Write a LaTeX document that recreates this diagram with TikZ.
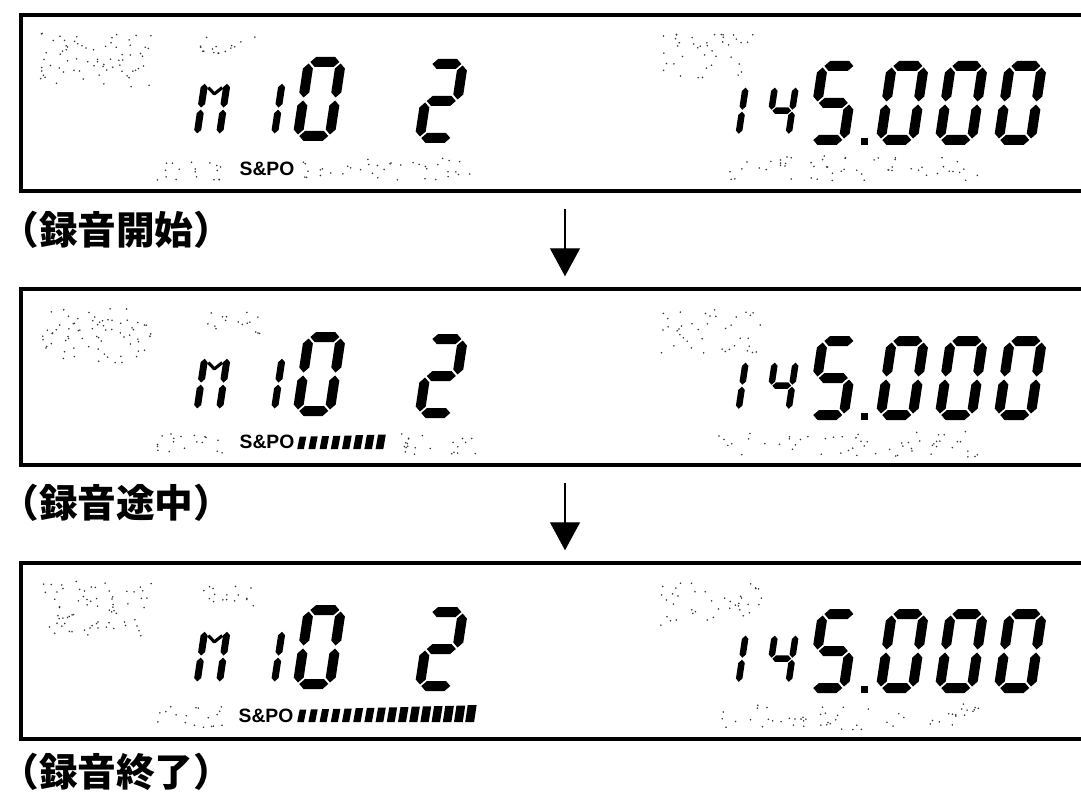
\documentclass[tikz,border=0pt]{standalone}
\usepackage{fontspec}
\setsansfont{Liberation Sans}
\newfontfamily\jpfont{Noto Sans CJK JP}
\usetikzlibrary{arrows.meta, positioning}

\tikzset{
  panel/.style={draw, line width=2pt, minimum width=21.6cm, minimum height=3.52cm, inner sep=0pt},
  caption/.style={font=\jpfont\bfseries\fontsize{22}{22}\selectfont, anchor=west, inner sep=0pt},
  tag/.style={font=\sffamily\bfseries\fontsize{11}{11}\selectfont, inner sep=0pt},
  flow/.style={-{Triangle[length=0.56cm, width=0.6cm]}, line width=0.7pt, shorten <=0.32cm, shorten >=0.22cm},
  speck/.style={fill=black!80},
  % seven segment pieces, local units, origin bottom left
  sega/.pic={\fill (6.5,79) -- (11.5,84) -- (30.5,84) -- (35.5,79) -- (30.5,74) -- (11.5,74) -- cycle;},
  segg/.pic={\fill (6.5,42) -- (11.5,47) -- (30.5,47) -- (35.5,42) -- (30.5,37) -- (11.5,37) -- cycle;},
  segd/.pic={\fill (6.5,5) -- (11.5,10) -- (30.5,10) -- (35.5,5) -- (30.5,0) -- (11.5,0) -- cycle;},
  segb/.pic={\fill (37,43.5) -- (42,48.5) -- (42,72.5) -- (37,77.5) -- (32,72.5) -- (32,48.5) -- cycle;},
  segc/.pic={\fill (37,6.5) -- (42,11.5) -- (42,35.5) -- (37,40.5) -- (32,35.5) -- (32,11.5) -- cycle;},
  sege/.pic={\fill (5,6.5) -- (10,11.5) -- (10,35.5) -- (5,40.5) -- (0,35.5) -- (0,11.5) -- cycle;},
  segf/.pic={\fill (5,43.5) -- (10,48.5) -- (10,72.5) -- (5,77.5) -- (0,72.5) -- (0,48.5) -- cycle;},
  segV/.pic={\draw[line width=1.8pt, line join=round] (11,72) -- (21,63) -- (31,72);}
}

% digit at bottom left (x,y), scale, segments
\newcommand{\lcddigit}[4]{%
  \begin{scope}[shift={(#1,#2)}, x={({0.02cm*#3},0)}, y={({0.003cm*#3},{0.02cm*#3})}]
    \foreach \s in {#4} \pic {seg\s};
  \end{scope}}

% scattered dots of the unlit parts
\newcommand{\speckle}[5]{%
  \foreach \k in {1,...,#5} \fill[speck] ({#1+#3*rnd},{#2+#4*rnd}) circle (0.5pt);}

\newcommand{\levelbars}[2]{%
  \foreach \i in {1,...,#2}
    \fill ({286+11.2*\i},{#1+174}) -- ++({6.5+0.15*\i},0) -- ++(2.5,{-12-0.3*\i}) -- ++({-6.5-0.15*\i},0) -- cycle;}

\newcommand{\lcdcontent}[1]{%
  \speckle{40}{#1+33}{112}{55}{70}
  \speckle{200}{#1+37}{62}{22}{16}
  \speckle{157}{#1+158}{68}{22}{18}
  \speckle{660}{#1+34}{102}{44}{40}
  \speckle{712}{#1+156}{268}{26}{55}
  \lcddigit{193}{#1+138}{0.7}{e,f,b,c,V}
  \lcddigit{248}{#1+138}{0.7}{b,c}
  \lcddigit{292}{#1+141}{1}{a,b,c,d,e,f}
  \lcddigit{414}{#1+143}{1}{a,b,g,e,d}
  \lcddigit{714}{#1+138}{0.65}{b,c}
  \lcddigit{764}{#1+138}{0.65}{f,g,b,c}
  \lcddigit{806}{#1+145}{1}{a,f,g,c,d}
  \fill (861,#1+138) rectangle ++(7,7);
  \lcddigit{875}{#1+145}{1}{a,b,c,d,e,f}
  \lcddigit{934}{#1+145}{1}{a,b,c,d,e,f}
  \lcddigit{993}{#1+145}{1}{a,b,c,d,e,f}}

\begin{document}
\begin{tikzpicture}[x=0.02cm, y=-0.02cm]
  \useasboundingbox (0,0) rectangle (1081,797);
  \clip (0,0) rectangle (1081,797);
  \pgfmathsetseed{11}

  % display frames, open to the right
  \node[panel] (p1) at (561,103) {};
  \node[panel] (p2) at (561,377) {};
  \node[panel] (p3) at (561,651) {};

  \lcdcontent{0}
  \lcdcontent{275}
  \lcdcontent{548}
  \speckle{303}{158}{172}{22}{38}
  \speckle{394}{433}{86}{22}{22}
  \levelbars{275}{8}
  \levelbars{548}{16}

  \node[tag] (s1) at (267,169) {S\&PO};
  \node[tag] (s2) at (267,442) {S\&PO};
  \node[tag] (s3) at (266,716) {S\&PO};

  \node[caption] (c1) at (0,230) {（録音開始）};
  \node[caption] (c2) at (0,503) {（録音途中）};
  \node[caption] (c3) at (0,772) {（録音終了）};

  \coordinate (ar) at (565,0);
  \draw[flow] (p1.south -| ar) -- (p2.north -| ar);
  \draw[flow] (p2.south -| ar) -- (p3.north -| ar);
\end{tikzpicture}
\end{document}
